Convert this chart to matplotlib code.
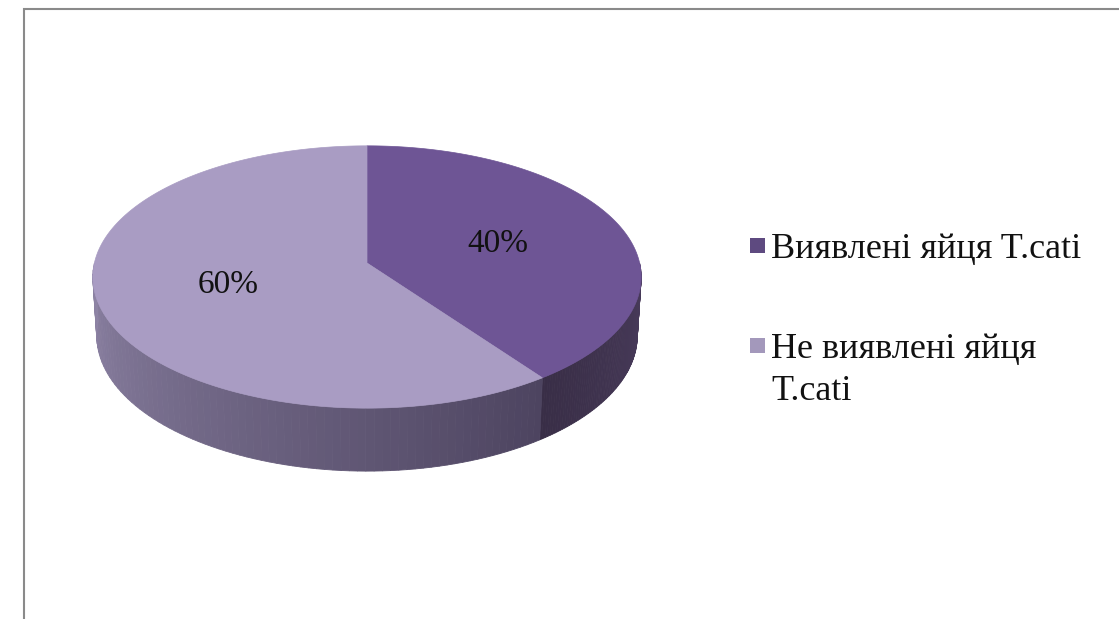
import numpy as np
import matplotlib.pyplot as plt
from matplotlib.patches import Polygon, Rectangle
from matplotlib.colors import to_rgb

labels = ['Виявлені яйця T.cati', 'Не виявлені яйця\nT.cati']
shares = [40, 60]
top_colors = ['#6e5595', '#a99cc3']
# side wall shading: (colour at start of visible arc, colour at end)
side_colors = [('#4b3d5e', '#392e47'), ('#4d4460', '#8e84a5')]
legend_colors = ['#5e4a80', '#a398bb']

plt.rcParams['font.family'] = ['Liberation Serif', 'DejaVu Serif']

# simple perspective camera for a tilted 3-D pie
elev = np.radians(28.4)
dist = 8.25
scale = 2249
thick = 0.247
cx, cy = 367, 263
cam = np.array([0, dist * np.sin(elev), dist * np.cos(elev)])
fwd = np.array([0, -np.sin(elev), -np.cos(elev)])
up = np.array([0, np.cos(elev), -np.sin(elev)])


def project(t, r=1.0, h=0.0):
    """angle t (rad) on a disc of radius r at height h -> pixel coords"""
    t = np.atleast_1d(t)
    pts = np.stack([r * np.cos(t), np.full_like(t, h), -r * np.sin(t)], axis=1)
    v = pts - cam
    depth = v @ fwd
    return cx + scale * pts[:, 0] / depth, cy - scale * (v @ up) / depth


fig = plt.figure(figsize=(11.19, 6.19), dpi=100)
ax = fig.add_axes([0, 0, 1, 1])
ax.set_xlim(0, 1119)
ax.set_ylim(619, 0)
ax.axis('off')

start = 90.0
for i, share in enumerate(shares):
    end = start - share / 100 * 360

    # front wall, drawn as thin strips for a shading gradient
    lo, hi = max(end, -180), min(start, 0)
    if hi > lo:
        n = 80
        t = np.radians(np.linspace(hi, lo, n + 1))
        tx, ty = project(t)
        bx, by = project(t, h=-thick)
        c0, c1 = np.array(to_rgb(side_colors[i][0])), np.array(to_rgb(side_colors[i][1]))
        for k in range(n):
            pts = [(tx[k], ty[k]), (tx[k + 1], ty[k + 1]),
                   (bx[k + 1], by[k + 1]), (bx[k], by[k])]
            col = c0 + (c1 - c0) * k / (n - 1)
            ax.add_patch(Polygon(pts, closed=True, facecolor=col,
                                 edgecolor=col, lw=0.6, zorder=2))

    # top face of the slice
    t = np.radians(np.linspace(start, end, 200))
    ax_, ay_ = project(t)
    verts = [(cx, cy)] + list(zip(ax_, ay_))
    ax.add_patch(Polygon(verts, closed=True, facecolor=top_colors[i],
                         edgecolor=top_colors[i], lw=0.5, zorder=3))

    # percentage label
    mid = np.radians((start + end) / 2)
    lx, ly = project(mid, r=0.52)
    ax.text(lx[0] - 2, ly[0] + 1, f'{share}%', fontsize=24, ha='center',
            va='center', color='#111111', zorder=4)
    start = end

# legend on the right
leg_y = [233, 333]
for i, lab in enumerate(labels):
    ax.add_patch(Rectangle((750, leg_y[i] + 5), 15, 15,
                           facecolor=legend_colors[i], edgecolor='none'))
    ax.text(771, leg_y[i], lab, fontsize=26, ha='left', va='top',
            color='#111111', linespacing=1.34)

# chart frame
ax.plot([24, 24, 1119], [619, 9, 9], color='#8a8a8a', lw=1.5,
        solid_joinstyle='miter')

fig.savefig('out.png', dpi=100, facecolor='white')
